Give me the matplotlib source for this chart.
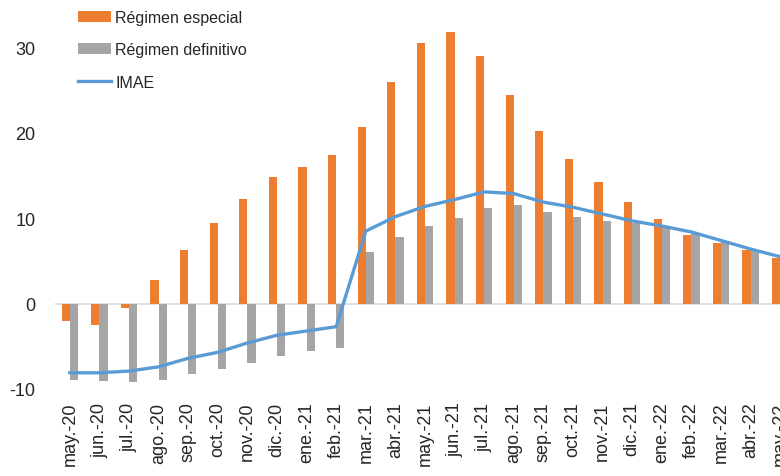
import matplotlib
matplotlib.use("Agg")
import matplotlib.pyplot as plt
import numpy as np

plt.rcParams['font.family'] = ['Liberation Sans', 'DejaVu Sans']
plt.rcParams['axes.unicode_minus'] = False

categories = ["may.-20", "jun.-20", "jul.-20", "ago.-20", "sep.-20", "oct.-20", "nov.-20",
              "dic.-20", "ene.-21", "feb.-21", "mar.-21", "abr.-21", "may.-21", "jun.-21",
              "jul.-21", "ago.-21", "sep.-21", "oct.-21", "nov.-21", "dic.-21", "ene.-22",
              "feb.-22", "mar.-22", "abr.-22", "may.-22"]
especial = [-2.0, -2.5, -0.5, 2.8, 6.3, 9.5, 12.3, 14.8, 16.0, 17.4, 20.7, 26.0, 30.6, 31.8,
            29.0, 24.4, 20.2, 17.0, 14.2, 11.9, 9.9, 8.1, 7.1, 6.3, 5.3]
definitivo = [-9.0, -9.1, -9.2, -9.0, -8.3, -7.7, -7.0, -6.1, -5.6, -5.2, 6.0, 7.8, 9.1, 10.0,
              11.2, 11.6, 10.8, 10.2, 9.7, 9.4, 8.9, 8.3, 7.4, 6.2, 5.3]
imae = [-8.1, -8.1, -7.9, -7.4, -6.4, -5.7, -4.6, -3.7, -3.2, -2.7, 8.5, 10.2, 11.4, 12.2,
        13.1, 12.9, 11.9, 11.3, 10.5, 9.7, 9.1, 8.4, 7.4, 6.4, 5.5]
yticks = [-10, 0, 10, 20, 30]

fig = plt.figure(figsize=(7.8, 4.77), dpi=100)
ax = fig.add_axes([55/780, 1-390/477, 740/780, 384/477])

x = np.arange(len(categories))
w = 0.28
b1 = ax.bar(x - w/2, especial, width=w, color='#ED7D31', label='Régimen especial', zorder=2)
b2 = ax.bar(x + w/2, definitivo, width=w, color='#A5A5A5', label='Régimen definitivo', zorder=2)
l1, = ax.plot(x, imae, color='#5B9BD5', lw=2.4, label='IMAE', zorder=3)
ax.axhline(0, color='#D9D9D9', lw=1.2, zorder=1)

ax.set_xlim(-0.5, len(categories) - 0.5)
ax.set_ylim(-10, 35)
ax.set_yticks(yticks)
ax.set_xticks(x)
ax.set_xticklabels(categories, rotation=90, color='#262626')
ax.tick_params(axis='both', length=0, labelsize=13, colors='#262626')
ax.tick_params(axis='x', labelsize=13, pad=9)
ax.tick_params(axis='y', pad=14)
for s in ax.spines.values():
    s.set_visible(False)

leg = ax.legend(handles=[b1, b2, l1], loc='upper left', bbox_to_anchor=(0.011, 1.025),
                frameon=False, fontsize=11.5, handlelength=2.1, handleheight=0.7,
                handletextpad=0.25, labelspacing=1.1)
for t in leg.get_texts():
    t.set_color('#262626')

fig.savefig('out.png', dpi=100)
